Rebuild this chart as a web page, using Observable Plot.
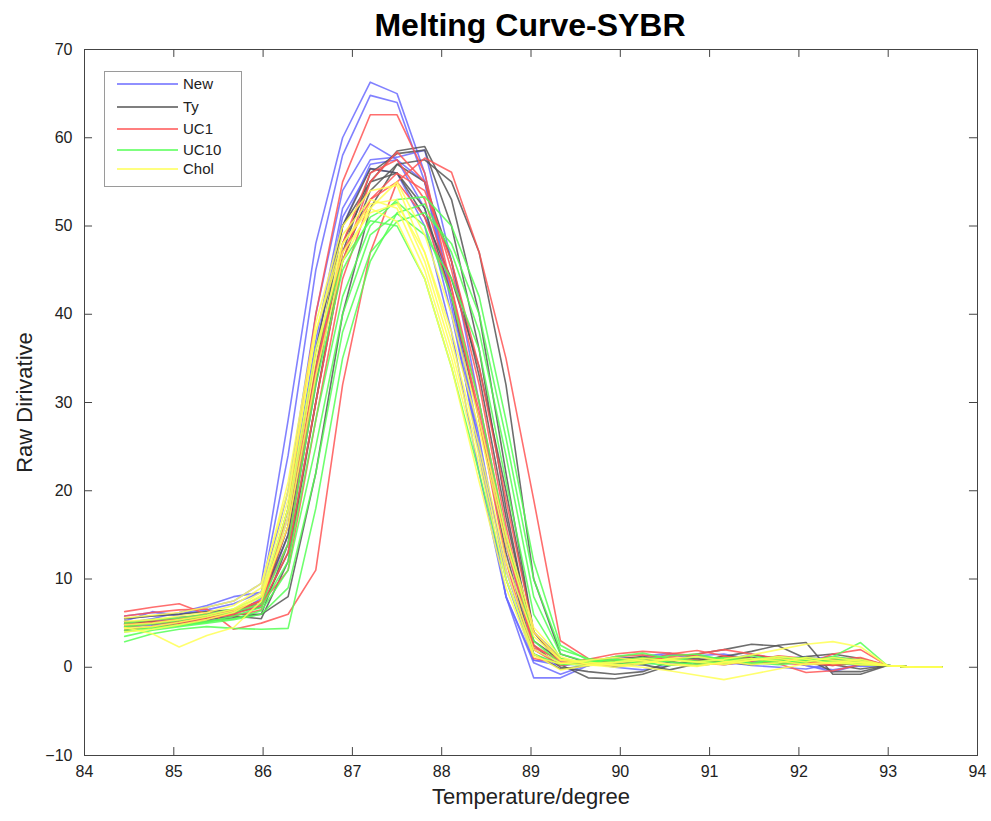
<!DOCTYPE html>
<html>
<head>
<meta charset="utf-8">
<script src="https://cdn.jsdelivr.net/npm/d3@7"></script>
<script src="https://cdn.jsdelivr.net/npm/@observablehq/plot@0.6"></script>
<style>
  body { margin: 0; background: #fff; }
  #wrap { position: relative; width: 991px; height: 821px; font-family: "Liberation Sans", Arial, sans-serif; }
  #title { height: 40px; padding-left: 69px; text-align: center; font-weight: bold; font-size: 32px; line-height: 50px; color: #000; }
  #legend { position: absolute; left: 104px; top: 71px; width: 138px; height: 116px; border: 1px solid #9a9a9a; background: #fff; box-sizing: border-box; }
</style>
</head>
<body>
<div id="wrap">
  <div id="title">Melting Curve-SYBR</div>
  <div id="chart"></div>
  <div id="legend"></div>
</div>
<script>
const temps = [84.45,84.76,85.06,85.37,85.67,85.98,86.28,86.59,86.89,87.2,87.5,87.81,88.11,88.42,88.72,89.03,89.33,89.64,89.94,90.25,90.55,90.86,91.16,91.47,91.77,92.08,92.38,92.69,92.99,93.3,93.6];
const seriesNames = ["New","Ty","UC1","UC10","Chol"];
const seriesColors = ["#6b6bff","#555555","#ff5555","#55ff55","#ffff55"];
const xTicks = [84,85,86,87,88,89,90,91,92,93,94];
const yTicks = [-10,0,10,20,30,40,50,60,70];

const newCurves = [
  [5.5,5.8,6.0,6.8,7.5,9.5,28,48,60,66.3,65,56,42,25,8,-1.2,-1.2,0.2,0.5,0.8,0.5,0.3,0.6,0.2,0.0,-0.2,0.4,0.6,0.2,0,0],
  [5.0,5.5,6.2,7.0,8.0,8.5,24,45,58,64.8,64,55,41,24,8,0.5,-0.8,0.3,0.8,1.0,0.6,0.2,0.8,1.5,0.9,0.2,-0.5,0.3,0.2,0,0],
  [5.8,6.2,6.0,6.5,7.2,8.5,20,40,54,59.3,57.5,55,42,26,10,0.8,0.2,0.6,1.1,1.0,1.4,1.2,0.7,0.4,0.9,1.2,0.6,0.1,0.2,0,0],
  [4.8,5.2,5.5,6.0,6.5,7.5,18,37,52,57.5,57.8,58.6,46,30,14,2.0,0.5,0.2,0.4,0.3,0.8,1.3,1.5,0.9,0.5,0.4,0.8,0.4,0.2,0,0],
  [5.2,6.3,5.8,5.5,6.2,7.0,15,33,50,57,57.5,52,40,25,11,1.5,0.2,0.5,0.0,-0.3,0.2,0.6,1.0,1.1,0.6,0.9,1.2,0.7,0.2,0,0],
  [4.5,4.8,5.0,5.6,6.0,7.8,17,36,51,56.5,56,50,38,22,8,0.8,0.6,0.3,0.6,1.2,1.6,0.8,0.3,0.6,1.0,0.2,-0.3,0.2,0.2,0,0]
];
const tyCurves = [
  [4.6,5.0,5.3,5.6,6.0,6.0,14,32,48,55,58.5,59,53,40,22,4,0.3,-1.2,-1.3,-0.8,0.2,0.8,1.2,1.8,2.5,2.8,-0.8,-0.8,0.2,0,0],
  [5.0,5.2,5.0,5.4,5.8,5.5,12,30,47,56,58.2,58.6,50,36,18,2.5,0.0,-0.5,-0.8,-0.5,0.6,1.5,2.0,2.6,2.4,1.0,-0.5,-0.5,0.2,0,0],
  [4.2,4.6,4.8,5.2,5.6,6.0,8,22,40,52,57,57.5,55,47,32,10,1.5,0.5,0.3,0.8,1.0,0.5,0.8,1.1,0.6,0.4,0.2,0.8,0.2,0,0],
  [5.5,5.8,6.0,6.3,6.5,7.2,16,36,50,55,56,52,42,28,13,1.5,-0.2,0.2,0.5,0.3,-0.3,0.4,1.3,0.9,0.5,1.2,1.5,1.0,0.2,0,0],
  [4.8,5.1,5.4,5.9,6.2,6.8,13,30,46,54,57,55,46,33,17,3.0,0.8,0.6,0.1,0.4,0.9,1.0,0.6,0.3,0.8,0.7,0.3,-0.2,0.2,0,0],
  [5.2,4.9,5.2,5.7,6.4,7.5,15,34,50,56.5,56,51,44,34,20,4,1.0,0.2,0.9,1.2,0.7,0.2,0.5,1.4,1.0,0.5,0.9,0.6,0.2,0,0]
];
const uc1Curves = [
  [6.3,6.8,7.2,6.0,5.8,6.5,18,40,55,62.6,62.6,56,43,28,12,1.0,0.5,0.9,1.5,1.8,1.6,1.3,0.8,1.0,0.5,0.3,1.5,2.0,0.2,0,0],
  [5.8,6.2,6.5,6.6,4.3,5.0,6.0,11,32,47,55,57.7,56.1,47,35,19,3.0,1.0,0.8,0.6,1.2,1.5,2.0,1.5,1.0,0.5,0.2,0.5,0.2,0,0],
  [4.2,4.6,5.0,5.5,6.0,7.0,13,30,46,55,58.4,55,45,32,16,2.5,0.6,0.3,0.8,1.1,0.9,0.6,1.2,1.0,0.7,0.4,0.9,1.1,0.2,0,0],
  [5.0,5.3,5.6,6.0,6.5,7.5,14,33,48,56,57.5,53,43,30,15,2.0,0.2,0.6,1.2,1.4,1.0,0.5,0.3,0.7,1.3,1.0,0.6,0.8,0.2,0,0],
  [4.8,5.1,5.4,5.8,6.3,7.2,11,28,44,53,56,54,46,34,19,4,0.8,0.4,0.2,0.6,1.5,1.9,1.3,0.6,0.4,-0.6,-0.4,0.3,0.2,0,0],
  [4.5,4.9,5.2,5.6,6.1,7.6,16,34,47,53,55,51,42,29,14,2.2,0.9,0.5,0.6,1.0,1.1,0.8,0.5,0.9,1.1,0.7,0.3,0.6,0.2,0,0]
];
const uc10Curves = [
  [2.9,3.8,4.3,4.6,4.4,4.3,4.4,18,35,46,51.5,52.5,47,38,24,8,1.5,0.6,1.2,1.6,1.0,0.5,0.9,1.3,0.8,0.6,1.2,2.8,0.2,0,0],
  [3.5,4.2,4.6,5.0,5.4,6.0,9,22,38,47,50.5,51.5,48,40,26,10,2.0,1.0,0.6,0.9,1.3,1.5,0.8,0.4,0.9,1.1,0.7,0.4,0.2,0,0],
  [4.2,4.5,4.8,5.1,5.8,6.8,12,28,42,50,53,53.3,50,42,28,12,2.5,0.8,0.3,0.6,1.0,0.7,0.4,0.8,1.2,0.9,0.5,0.3,0.2,0,0],
  [4.6,4.9,5.3,5.8,6.2,7.2,14,32,45,51,52.7,50,42,30,15,3,0.4,0.2,0.7,1.1,0.6,0.3,0.7,1.0,0.6,0.8,1.0,0.6,0.2,0,0],
  [4.0,4.4,4.7,5.2,5.5,6.4,11,25,40,49,51.4,49,44,36,21,6,1.0,0.5,0.9,0.4,0.7,1.2,1.0,0.5,0.3,0.6,1.2,0.8,0.2,0,0],
  [5.0,5.4,5.6,6.0,6.6,8.0,18,36,46,50.6,50,44,34,22,10,1.5,0.3,0.6,0.9,0.5,0.2,0.6,1.1,0.8,0.5,0.9,0.6,0.4,0.2,0,0]
];
const cholCurves = [
  [4.5,3.8,2.3,3.6,4.5,7.5,17,35,48,52.5,53,46,36,24,11,2.0,0.5,0.2,0.3,0.0,-0.4,-0.9,-1.4,-0.8,-0.2,0.4,0.6,0.3,0.2,0,0],
  [5.2,5.4,5.8,6.2,7.0,9.0,21,39,50,54,54.6,47,37,25,12,3.5,0.8,0.4,0.6,1.0,0.8,0.6,0.9,1.4,2.0,2.6,2.9,2.3,0.2,0,0],
  [4.8,5.0,5.4,5.9,6.6,8.5,19,38,49,53,52,45,35,23,10,1.5,-0.3,0.2,0.5,0.8,0.3,0.1,0.6,1.0,0.7,0.3,0.5,0.9,0.2,0,0],
  [4.0,4.3,4.8,5.4,6.2,8.0,18,36,47,51.5,52.5,47,38,27,14,4,0.9,0.6,0.2,0.5,1.0,1.2,0.7,0.3,0.5,1.1,0.8,0.5,0.2,0,0],
  [5.6,5.9,6.2,6.8,7.5,9.5,20,38,48,52,50.5,44,34,21,9,1.2,0.4,0.8,1.1,0.7,0.4,0.2,0.5,0.8,1.2,0.9,0.4,0.6,0.2,0,0],
  [4.4,4.6,5.1,5.7,6.4,8.2,16,33,46,52,55,49,40,28,15,4.5,1.2,0.3,0.0,0.4,0.9,0.6,0.3,0.8,1.0,0.6,1.1,0.7,0.2,0,0]
];

const allCurves = [newCurves, tyCurves, uc1Curves, uc10Curves, cholCurves];
const rows = [];
allCurves.forEach((group, si) => {
  group.forEach((vals, ci) => {
    vals.forEach((v, i) => rows.push({series: seriesNames[si], curve: seriesNames[si] + "-" + ci, t: temps[i], v}));
  });
});

const W = 991, H = 781;
const chart = Plot.plot({
  width: W,
  height: H,
  marginLeft: 84,
  marginRight: 14,
  marginTop: 9,
  marginBottom: 66,
  style: {fontFamily: "'Liberation Sans', Arial, sans-serif", fontSize: "16px", color: "#222", background: "#fff"},
  x: {domain: [84, 94], ticks: xTicks, label: null},
  y: {domain: [-10, 70], ticks: yTicks, label: null},
  color: {domain: seriesNames, range: seriesColors},
  marks: [
    Plot.line(rows, {x: "t", y: "v", z: "curve", stroke: "series", strokeWidth: 1.6, strokeOpacity: 0.85}),
    Plot.frame({stroke: "#444", strokeWidth: 1}),
    Plot.ruleX(xTicks, {x: d => d, y1: -10, y2: -9.1, stroke: "#444"}),
    Plot.ruleX(xTicks, {x: d => d, y1: 70, y2: 69.1, stroke: "#444"}),
    Plot.ruleY(yTicks, {y: d => d, x1: 84, x2: 84.09, stroke: "#444"}),
    Plot.ruleY(yTicks, {y: d => d, x1: 94, x2: 93.91, stroke: "#444"}),
    Plot.axisX(xTicks, {tickSize: 0, tickPadding: 10, fontSize: 16, label: null}),
    Plot.axisY(yTicks, {tickSize: 0, tickPadding: 12, fontSize: 16, label: null}),
    Plot.text(["Temperature/degree"], {frameAnchor: "bottom", dy: 48, fontSize: 22, fill: "#222"}),
    Plot.text(["Raw Dirivative"], {frameAnchor: "left", dx: -60, rotate: -90, textAnchor: "middle", fontSize: 22, fill: "#222"})
  ]
});
document.getElementById("chart").appendChild(chart);

// legend
const ns = "http://www.w3.org/2000/svg";
const lg = document.createElementNS(ns, "svg");
lg.setAttribute("width", 136);
lg.setAttribute("height", 114);
lg.style.display = "block";
const rowY = [12, 35, 57, 78, 97];
seriesNames.forEach((name, i) => {
  const ln = document.createElementNS(ns, "line");
  ln.setAttribute("x1", 12); ln.setAttribute("x2", 73);
  ln.setAttribute("y1", rowY[i]); ln.setAttribute("y2", rowY[i]);
  ln.setAttribute("stroke", seriesColors[i]); ln.setAttribute("stroke-width", 1.6);
  lg.appendChild(ln);
  const tx = document.createElementNS(ns, "text");
  tx.setAttribute("x", 78); tx.setAttribute("y", rowY[i]);
  tx.setAttribute("dy", "0.35em");
  tx.setAttribute("font-size", 15);
  tx.setAttribute("font-family", "'Liberation Sans', Arial, sans-serif");
  tx.setAttribute("fill", "#222");
  tx.textContent = name;
  lg.appendChild(tx);
});
document.getElementById("legend").appendChild(lg);
</script>
</body>
</html>
